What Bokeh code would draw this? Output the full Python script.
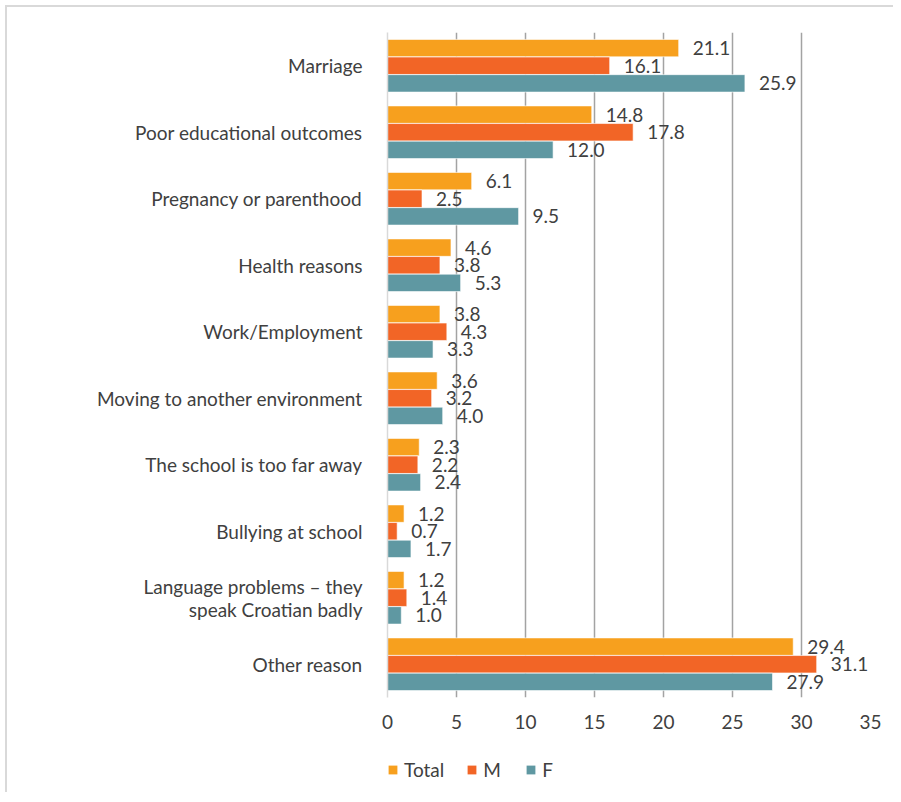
from bokeh.plotting import figure
from bokeh.layouts import column
from bokeh.models import (ColumnDataSource, FactorRange, Range1d, FixedTicker,
                          Legend, LegendItem)
from bokeh.transform import dodge
from bokeh.core.properties import value
from bokeh.embed import file_html
from bokeh.resources import INLINE

categories = ["Marriage", "Poor educational outcomes", "Pregnancy or parenthood",
              "Health reasons", "Work/Employment", "Moving to another environment",
              "The school is too far away", "Bullying at school",
              "Language problems \u2013 they\nspeak Croatian badly", "Other reason"]
total = [21.1, 14.8, 6.1, 4.6, 3.8, 3.6, 2.3, 1.2, 1.2, 29.4]
male = [16.1, 17.8, 2.5, 3.8, 4.3, 3.2, 2.2, 0.7, 1.4, 31.1]
female = [25.9, 12.0, 9.5, 5.3, 3.3, 4.0, 2.4, 1.7, 1.0, 27.9]
series = ["Total", "M", "F"]
x_ticks = [0, 5, 10, 15, 20, 25, 30, 35]

FONT = "Lato"
FS = "19px"
TXT = "#404040"
COLORS = ["#F7A01E", "#F26526", "#5F98A2"]
BORDER = "2px solid #D9D9D9"

src = ColumnDataSource(dict(
    cat=categories, total=total, male=male, female=female,
    total_l=[f"{v:.1f}" for v in total],
    male_l=[f"{v:.1f}" for v in male],
    female_l=[f"{v:.1f}" for v in female],
))

p = figure(width=888, height=730, output_backend="svg", toolbar_location=None,
           y_range=FactorRange(*categories[::-1], range_padding=0),
           x_range=Range1d(0, 35),
           min_border_top=25, min_border_right=25, min_border_left=380,
           min_border_bottom=40,
           styles={"border-top": BORDER, "border-left": BORDER,
                   "margin-left": "5px", "margin-top": "5px"})
p.outline_line_color = None
p.background_fill_color = "white"

bh = 0.262
cols = ["total", "male", "female"]
offs = [0.265, 0.0, -0.265]
for col, off, c in zip(cols, offs, COLORS):
    p.hbar(y=dodge("cat", off, range=p.y_range), right=col, height=bh,
           source=src, fill_color=c, line_color="white", line_alpha=0.6)
    p.text(x=col, y=dodge("cat", off, range=p.y_range), text=col + "_l", source=src,
           x_offset=14, text_align="left", text_baseline="middle",
           text_font=value(FONT), text_font_size=FS, text_color=TXT)

# axes
p.xaxis.ticker = FixedTicker(ticks=x_ticks)
p.xaxis.axis_line_color = None
p.xaxis.major_tick_line_color = None
p.xaxis.minor_tick_line_color = None
p.xaxis.major_label_standoff = 11
p.xaxis.major_label_text_font = FONT
p.xaxis.major_label_text_font_size = FS
p.xaxis.major_label_text_color = TXT

p.yaxis.axis_line_color = "#D9D9D9"
p.yaxis.axis_line_width = 1.5
p.yaxis.major_tick_line_color = None
p.yaxis.minor_tick_line_color = None
p.yaxis.major_label_standoff = 19
p.yaxis.major_label_text_font = FONT
p.yaxis.major_label_text_font_size = FS
p.yaxis.major_label_text_color = TXT
p.yaxis.major_label_text_line_height = 1.0
p.yaxis.major_label_text_baseline = "alphabetic"

p.ygrid.grid_line_color = None
p.xgrid.ticker = FixedTicker(ticks=x_ticks[1:])
p.xgrid.grid_line_color = "#A3A3A3"
p.xgrid.grid_line_width = 1.5

# legend strip below the chart (zero-height proxy bars carry the legend swatches)
p2 = figure(width=888, height=57, output_backend="svg", toolbar_location=None,
            x_range=Range1d(0, 35), y_range=FactorRange(*categories),
            x_axis_location=None, y_axis_location=None, min_border=0,
            styles={"border-left": BORDER, "margin-left": "5px"})
p2.outline_line_color = None
p2.grid.grid_line_color = None
items = []
for name, col, c in zip(series, cols, COLORS):
    r = p2.hbar(y="cat", right=col, height=0, source=src,
                fill_color=c, line_color=None)
    items.append(LegendItem(label=name, renderers=[r]))
legend = Legend(items=items, location=(0, 11), orientation="horizontal",
                border_line_color=None, background_fill_alpha=0,
                padding=0, margin=0, spacing=22, label_standoff=6,
                glyph_width=11, glyph_height=11,
                label_text_font=FONT, label_text_font_size=FS,
                label_text_color=TXT)
p2.add_layout(legend, "center")

layout = column(p, p2, spacing=0)
open("out.html", "w").write(file_html(layout, INLINE))
